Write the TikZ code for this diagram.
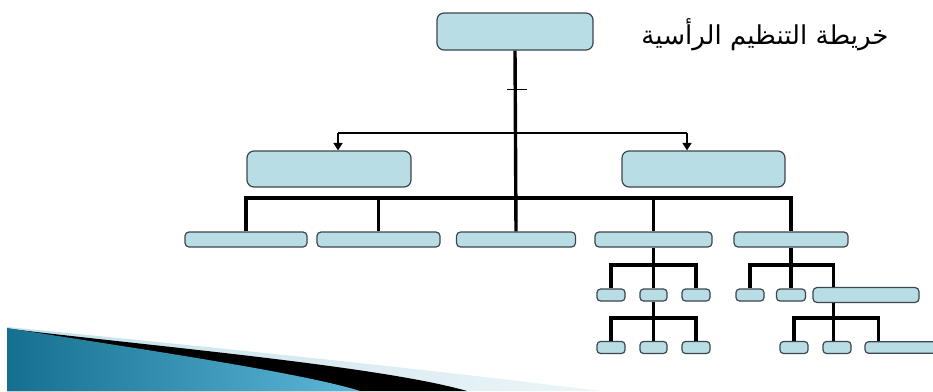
\documentclass[tikz,border=0pt]{standalone}
\usepackage{fontspec}
\usetikzlibrary{arrows.meta,calc}
\TeXXeTstate=1
\newfontfamily\arabicfont[Script=Arabic]{DejaVu Sans}
\definecolor{boxfill}{RGB}{184,221,228}
\definecolor{boxline}{RGB}{60,70,76}
\definecolor{tealdark}{RGB}{20,112,142}
\definecolor{teallight}{RGB}{92,184,214}
\definecolor{paleband}{RGB}{196,224,234}
\definecolor{palebandend}{RGB}{236,245,248}
\tikzset{
  orgbox/.style={draw=boxline, line width=1.2pt, fill=boxfill, rounded corners=5pt,
    inner sep=0pt, minimum width=#1},
  bigbox/.style={orgbox=#1, minimum height=37pt, rounded corners=7pt},
  midbox/.style={orgbox=#1, minimum height=15pt, rounded corners=4pt},
  smallbox/.style={orgbox=28pt, minimum height=12pt, rounded corners=3.5pt},
  trunk/.style={line width=3.4pt, black},
  feeder/.style={line width=2pt, black},
  pointer/.style={line width=1.6pt, black, -{Triangle[width=9pt,length=7.5pt]}},
  hairline/.style={line width=0.8pt, black}
}
\begin{document}
\begin{tikzpicture}[x=1pt,y=-1pt]
  \useasboundingbox (0,0) rectangle (933,391);
  \clip (0,0) rectangle (933,391);
  \fill[white] (0,0) rectangle (933,391);

  % corner swoosh: pale band, black shadow, teal wedge
  \shade[left color=paleband, right color=palebandend]
    (7,327) .. controls (160,342) and (420,368) .. (600,391) -- (7,391) -- cycle;
  \fill[black]
    (7,328.5) .. controls (150,346) and (380,366) .. (467,391) -- (7,391) -- cycle;
  \shade[left color=tealdark, right color=teallight]
    (7,328) .. controls (120,346) and (300,372) .. (360,391) -- (7,391) -- cycle;

  % title
  \node[font=\arabicfont\fontsize{26}{30}\selectfont, anchor=center] (title) at (765,35)
    {\beginR خريطة التنظيم الرأسية\endR};

  % boxes
  \node[bigbox=156pt] (top) at (515,31.5) {};
  \node[bigbox=164pt, minimum height=36pt] (L) at (329,169) {};
  \node[bigbox=163pt, minimum height=36pt] (R) at (703.5,169) {};

  \node[midbox=122pt] (b1) at (246,239.5) {};
  \node[midbox=123pt] (b2) at (378.5,239.5) {};
  \node[midbox=119pt] (b3) at (516,239.5) {};
  \node[midbox=117pt] (b4) at (653.5,239.5) {};
  \node[midbox=114pt] (b5) at (791,239.5) {};

  \node[smallbox] (s1) at (611,295) {};
  \node[smallbox, minimum width=27pt] (s2) at (653.5,295) {};
  \node[smallbox] (s3) at (696,295) {};
  \node[smallbox] (u1) at (611,347.5) {};
  \node[smallbox, minimum width=27pt] (u2) at (653.5,347.5) {};
  \node[smallbox] (u3) at (696,347.5) {};

  \node[smallbox] (t1) at (750,295) {};
  \node[smallbox, minimum width=29pt] (t2) at (791,295) {};
  \node[midbox=106pt] (t3) at (866,295) {};
  \node[smallbox] (v1) at (794,347.5) {};
  \node[smallbox] (v2) at (837,347.5) {};
  \node[midbox=80pt, minimum height=11.5pt, rounded corners=3.5pt] (v3) at (905,347.5) {};

  % junction levels
  \coordinate (bar1) at (0,198);
  \coordinate (bar2) at (0,265);
  \coordinate (bar3) at (0,318);
  \coordinate (aL) at (338,133);
  \coordinate (aR) at (687,133);
  \coordinate (t3in) at ([xshift=21pt]t3.north west);
  \coordinate (t3out) at ([xshift=21pt]t3.south west);
  \coordinate (v3in) at ([xshift=14pt]v3.north west);

  % main stem with its tick
  \draw[trunk] (top.south) -- (b3.north);
  \coordinate (tick) at ($(top.south)!0.215!(b3.north)$);
  \draw[hairline] ([xshift=-8pt]tick) -- ([xshift=12pt]tick);

  % branch to the two second-level boxes
  \draw[feeder] (aL) -- (aR);
  \draw[pointer] (aL) -- (aL |- L.north);
  \draw[pointer] (aR) -- (aR |- R.north);

  % third level
  \draw[trunk] (b1.north) -- (b1.north |- bar1) -- (b5.north |- bar1) -- (b5.north);
  \draw[trunk] (b2.north |- bar1) -- (b2.north);
  \draw[trunk] (b4.north |- bar1) -- (b4.north);

  % group under b4
  \draw[trunk] (b4.south) -- (s2.north);
  \draw[trunk] (s1.north) -- (s1.north |- bar2) -- (s3.north |- bar2) -- (s3.north);
  \draw[trunk] (s2.south) -- (u2.north);
  \draw[trunk] (u1.north) -- (u1.north |- bar3) -- (u3.north |- bar3) -- (u3.north);

  % group under b5
  \draw[trunk] (b5.south) -- (t2.north);
  \draw[trunk] (t1.north) -- (t1.north |- bar2) -- (t3in |- bar2) -- (t3in);
  \draw[trunk] (t3out) -- (t3out |- v2.north);
  \draw[trunk] (v1.north) -- (v1.north |- bar3) -- (v3in |- bar3) -- (v3in);
\end{tikzpicture}
\end{document}
